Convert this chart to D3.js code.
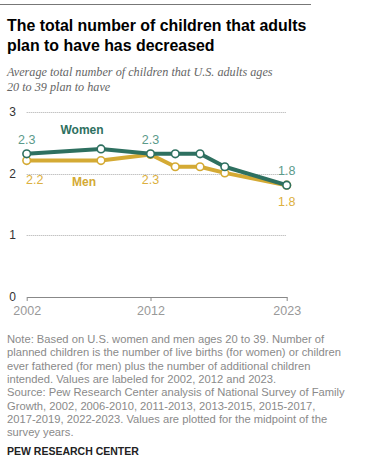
<!DOCTYPE html>
<html>
<head>
<meta charset="utf-8">
<script src="https://cdn.jsdelivr.net/npm/d3@7"></script>
<style>
  body { margin: 0; background: #fff; }
  svg text { font-family: "Liberation Sans", Arial, sans-serif; }
</style>
</head>
<body>
<div id="chart"></div>
<script>
// chart data
const years = [2002, 2008, 2012, 2014, 2016, 2018, 2023];
const women = [2.32, 2.40, 2.32, 2.32, 2.32, 2.11, 1.81];
const men = [2.21, 2.21, 2.31, 2.11, 2.11, 2.01, 1.81];
const yTicks = [0, 1, 2, 3];
const xTicks = [2002, 2012, 2023];
const labelYears = [2002, 2012, 2023];
const womenLabels = ["2.3", "2.3", "1.8"];
const menLabels = ["2.2", "2.3", "1.8"];

const noteLines = [
  "Note: Based on U.S. women and men ages 20 to 39. Number of",
  "planned children is the number of live births (for women) or children",
  "ever fathered (for men) plus the number of additional children",
  "intended. Values are labeled for 2002, 2012 and 2023.",
  "Source: Pew Research Center analysis of National Survey of Family",
  "Growth, 2002, 2006-2010, 2011-2013, 2013-2015, 2015-2017,",
  "2017-2019, 2022-2023. Values are plotted for the midpoint of the",
  "survey years."
];

const width = 369, height = 468;
const green = "#2e7060", greenLabel = "#5b9a8a";
const gold = "#d4aa34", goldLabel = "#dcb040";

const svg = d3.select("#chart").append("svg")
  .attr("width", width).attr("height", height);

// top rule
svg.append("line").attr("x1", 0).attr("x2", 311).attr("y1", 4.5).attr("y2", 4.5)
  .attr("stroke", "#777").attr("stroke-width", 1);

// title
const title = svg.append("text").attr("x", 7).attr("y", 31)
  .attr("font-size", 15.9).attr("font-weight", "bold").attr("fill", "#000");
title.append("tspan").attr("x", 7).text("The total number of children that adults");
title.append("tspan").attr("x", 7).attr("dy", 20).text("plan to have has decreased");

// subtitle
const sub = svg.append("text").attr("x", 7).attr("y", 76)
  .attr("font-style", "italic").attr("fill", "#666")
  .style("font-family", "'Liberation Serif', 'DejaVu Serif', serif")
  .style("font-size", "12.2px");
sub.append("tspan").attr("x", 7).text("Average total number of children that U.S. adults ages");
sub.append("tspan").attr("x", 7).attr("dy", 15).text("20 to 39 plan to have");

// scales
const x = d3.scaleLinear().domain([2002, 2023]).range([26.7, 286.7]);
const y = d3.scaleLinear().domain([0, 3]).range([296.5, 112]);

// grid
svg.append("g").selectAll("line")
  .data(yTicks.filter(d => d > 0))
  .enter().append("line")
  .attr("x1", x(2002)).attr("x2", x(2023))
  .attr("y1", d => Math.round(y(d)) + 0.5).attr("y2", d => Math.round(y(d)) + 0.5)
  .attr("stroke", "#aaa").attr("stroke-width", 1)
  .attr("stroke-dasharray", "1,1");

// y labels
svg.append("g").selectAll("text")
  .data(yTicks).enter().append("text")
  .attr("x", 16).attr("y", d => y(d) + 4)
  .attr("text-anchor", "end")
  .attr("font-size", 12).attr("fill", "#333")
  .text(d => d);

// x axis
const xAxis = svg.append("g")
  .attr("transform", "translate(0," + Math.round(y(0)) + ")")
  .call(d3.axisBottom(x).tickValues(xTicks).tickFormat(d3.format("d")).tickSize(4).tickSizeOuter(0));
xAxis.select(".domain").attr("stroke", "#888");
xAxis.selectAll(".tick line").attr("stroke", "#888");
xAxis.selectAll(".tick text").attr("fill", "#999").attr("font-size", 12.5)
  .attr("dy", "0.85em")
  .style("font-family", "'Liberation Sans', Arial, sans-serif");

// lines
const line = d3.line().x(d => x(d[0])).y(d => y(d[1]));
const series = [
  { name: "Men", values: men, color: gold },
  { name: "Women", values: women, color: green }
];

series.forEach(s => {
  const pts = years.map((yr, i) => [yr, s.values[i]]);
  svg.append("path").datum(pts)
    .attr("d", line).attr("fill", "none")
    .attr("stroke", s.color).attr("stroke-width", 4)
    .attr("stroke-linejoin", "round");
  svg.append("g").selectAll("circle").data(pts).enter().append("circle")
    .attr("cx", d => x(d[0])).attr("cy", d => y(d[1]))
    .attr("r", 3.8).attr("fill", "#fff")
    .attr("stroke", s.color).attr("stroke-width", 1.6);
});

// value labels
svg.append("g").selectAll("text").data(labelYears).enter().append("text")
  .attr("x", d => x(d)).attr("y", (d, i) => i === 2 ? 174.5 : 143.5)
  .attr("text-anchor", "middle").attr("font-size", 12.5).attr("fill", greenLabel)
  .text((d, i) => womenLabels[i]);
svg.append("g").selectAll("text").data(labelYears).enter().append("text")
  .attr("x", (d, i) => i === 0 ? x(d) + 8 : x(d)).attr("y", (d, i) => i === 2 ? 206 : 184)
  .attr("text-anchor", "middle").attr("font-size", 12.5).attr("fill", goldLabel)
  .text((d, i) => menLabels[i]);

// series names
svg.append("text").attr("x", 82).attr("y", 134).attr("text-anchor", "middle")
  .attr("font-size", 12).attr("font-weight", "bold").attr("fill", green).text("Women");
svg.append("text").attr("x", 84).attr("y", 186).attr("text-anchor", "middle")
  .attr("font-size", 12).attr("font-weight", "bold").attr("fill", gold).text("Men");

// notes
const note = svg.append("text").attr("x", 7).attr("y", 343)
  .attr("font-size", 11.2).attr("fill", "#8a8a8a");
noteLines.forEach((t, i) => {
  note.append("tspan").attr("x", 7).attr("dy", i === 0 ? 0 : 13.3).text(t);
});

svg.append("text").attr("x", 7).attr("y", 455)
  .attr("font-size", 10.5).attr("font-weight", "bold").attr("fill", "#222")
  .text("PEW RESEARCH CENTER");
</script>
</body>
</html>
